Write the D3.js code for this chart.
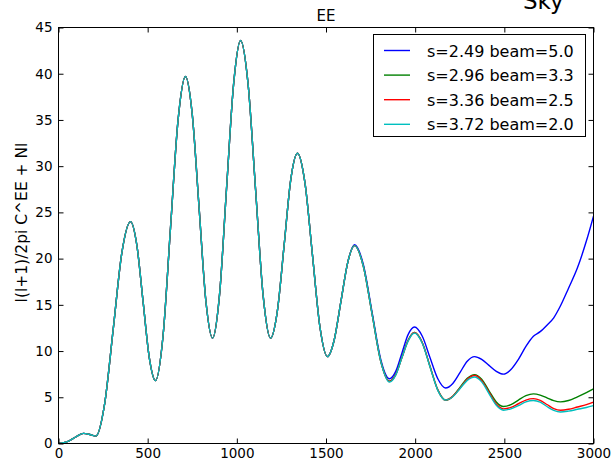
<!DOCTYPE html>
<html><head><meta charset="utf-8">
<script src="https://cdn.jsdelivr.net/npm/d3@7"></script>
<style>body{margin:0;background:#fff}svg{display:block}text{font-family:"DejaVu Sans",sans-serif;fill:#000}</style>
</head><body><svg id="c" width="616" height="462"></svg>
<script>
const ells = [0,50,100,140,180,210,258,307,355,404,439,474,509,544,586,628,670,712,750,788,826,864,903,942,982,1021,1063,1105,1147,1189,1227,1265,1302,1340,1382,1424,1466,1508,1546,1584,1622,1660,1709,1758,1807,1856,1891,1926,1961,1996,2040,2083,2127,2170,2211,2252,2292,2333,2373,2414,2455,2495,2537,2579,2621,2663,2701,2739,2777,2815,2860,2910,2960,3000];
const head = [0,0.2,0.75,1.1,0.95,0.8,4.2,12.4,20.6,24.0,21.5,15.4,9.3,6.8,11.6,23.3,34.9,39.7,35.6,25.6,15.5,11.4,16.1,27.5,38.9,43.6,38.9,27.5,16.1,11.4,14.3,21.4,28.5,31.4,28.2,20.4,12.6,9.4,11.2,15.4,19.6];
const blueVals  = head.concat([21.5,19.4,14.25,9.1,7.0,7.8,9.8,11.8,12.6,11.6,9.3,7.0,6.0,6.5,7.7,8.9,9.4,9.1,8.45,7.8,7.5,8.0,9.1,10.5,11.6,12.1,12.8,13.6,14.9,16.8,19.0,21.9,24.6]);
const greenVals = head.concat([21.4,19.2,14.05,8.9,6.75,7.47,9.35,11.2,12.0,10.9,8.35,5.8,4.7,5.1,6.1,7.05,7.45,6.95,5.7,4.5,4.0,4.2,4.7,5.17,5.37,5.24,4.94,4.63,4.5,4.65,5.05,5.5,5.9]);
const redVals   = head.concat([21.4,19.2,14.05,8.9,6.7,7.45,9.3,11.15,12.0,10.9,8.35,5.8,4.7,5.1,6.0,6.95,7.35,6.8,5.55,4.27,3.75,3.9,4.3,4.7,4.85,4.67,4.22,3.78,3.6,3.7,3.95,4.2,4.47]);
const cyanVals  = head.concat([21.4,19.2,14.05,8.9,6.65,7.4,9.3,11.1,11.95,10.85,8.3,5.75,4.7,5.06,5.95,6.83,7.2,6.67,5.4,4.13,3.6,3.75,4.1,4.5,4.65,4.47,4.0,3.58,3.4,3.5,3.7,3.9,4.1]);
const seriesNames = ["s=2.49 beam=5.0","s=2.96 beam=3.3","s=3.36 beam=2.5","s=3.72 beam=2.0"];
const seriesColors = ["#0000ff","#008000","#ff0000","#00bfbf"];
const seriesVals = [blueVals, greenVals, redVals, cyanVals];
const xTicks = [0,500,1000,1500,2000,2500,3000];
const yTicks = [0,5,10,15,20,25,30,35,40,45];
const titleText = "EE";
const yLabel = "l(l+1)/2pi C^EE + Nl";
const cornerText = "Sky";

const svg = d3.select("#c");
const L=58.5, R=593.5, T=27.5, B=443.5;
const x = d3.scaleLinear().domain([0,3000]).range([L,R]);
const y = d3.scaleLinear().domain([0,45]).range([B,T]);

svg.append("defs").append("clipPath").attr("id","clip").append("rect")
  .attr("x",L).attr("y",T).attr("width",R-L).attr("height",B-T);

const line = d3.line().x((d,i)=>x(ells[i])).y(d=>y(d)).curve(d3.curveMonotoneX);
const g = svg.append("g").attr("clip-path","url(#clip)");
seriesVals.forEach((vals,k)=>{
  g.append("path").datum(vals).attr("d",line).attr("fill","none")
   .attr("stroke",seriesColors[k]).attr("stroke-width",1.4);
});

// axes
const tl = 5;
const ax = svg.append("g").attr("transform",`translate(0,${B})`)
  .call(d3.axisBottom(x).tickValues(xTicks).tickSize(-tl).tickPadding(5).tickFormat(d3.format("d")));
const axT = svg.append("g").attr("transform",`translate(0,${T})`)
  .call(d3.axisTop(x).tickValues(xTicks).tickSize(-tl).tickFormat(""));
const ay = svg.append("g").attr("transform",`translate(${L},0)`)
  .call(d3.axisLeft(y).tickValues(yTicks).tickSize(-tl).tickPadding(6).tickFormat(d3.format("d")));
const ayR = svg.append("g").attr("transform",`translate(${R},0)`)
  .call(d3.axisRight(y).tickValues(yTicks).tickSize(-tl).tickFormat(""));
[ax,axT,ay,ayR].forEach(a=>{
  a.select(".domain").remove();
  a.selectAll(".tick line").attr("stroke","#000").attr("stroke-width",1);
  a.selectAll("text").attr("font-size",13.5).attr("font-family","DejaVu Sans").attr("fill","#000");
});
ax.selectAll("text").attr("dy","0.71em");
svg.append("rect").attr("x",L).attr("y",T).attr("width",R-L).attr("height",B-T)
  .attr("fill","none").attr("stroke","#000").attr("stroke-width",1);

svg.append("text").attr("x",(L+R)/2).attr("y",21).attr("text-anchor","middle")
  .attr("font-size",15).text(titleText);
svg.append("text").attr("transform",`translate(27,${(T+B)/2 - 13}) rotate(-90)`)
  .attr("text-anchor","middle").attr("font-size",15.5).text(yLabel);
svg.append("text").attr("x",523).attr("y",9).attr("font-size",23)
  .attr("font-family","Open Sans").text(cornerText);

// legend
const lg = svg.append("g");
lg.append("rect").attr("x",373.5).attr("y",34.5).attr("width",212).attr("height",102)
  .attr("fill","#fff").attr("stroke","#000").attr("stroke-width",1);
seriesNames.forEach((n,k)=>{
  const cy = 50.5 + k*24.6;
  lg.append("line").attr("x1",384).attr("x2",410).attr("y1",cy).attr("y2",cy)
    .attr("stroke",seriesColors[k]).attr("stroke-width",1.4);
  lg.append("text").attr("x",427).attr("y",cy+6).attr("font-size",16).text(n);
});
</script></body></html>
